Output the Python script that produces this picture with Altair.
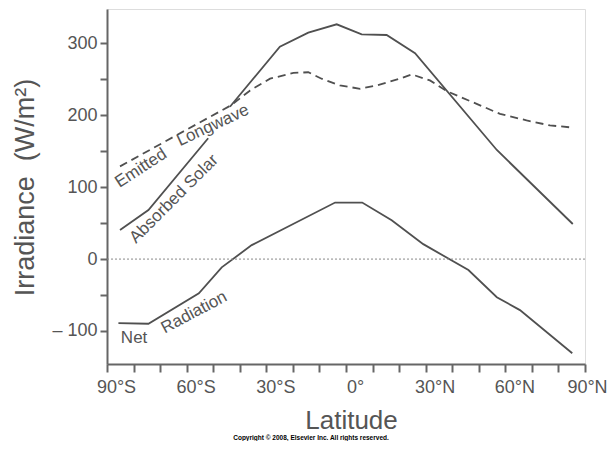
import altair as alt
import pandas as pd

# ---- data ----
absorbed_lat_a = [-85.1, -74.4, -51.9]
absorbed_val_a = [40.5, 68.3, 168.1]
absorbed_lat_b = [-43.7, -24.9, -14.2, -3.5, 5.9, 15.3, 26.0, 56.8, 85.4]
absorbed_val_b = [212, 295.6, 315, 326.7, 312.8, 311.8, 286.4, 151.8, 48.8]

emitted_lat = [-85.1, -64.0, -43.3, -36.1, -28.6, -19.8, -14.2, -9.2, -2.3, 5.3,
               11.6, 20.3, 24.8, 31.6, 37.9, 49.2, 58.0, 68.0, 76.8, 85.4]
emitted_val = [129, 172, 214, 234.7, 251, 259, 260, 251, 241.7, 237,
               241.7, 251, 257, 248.6, 233.7, 216, 202, 193, 186, 183]

net_lat = [-85.7, -74.4, -55.4, -46.8, -35.5, -4.1, 6.1, 17.2, 29.1, 46.1, 56.8, 65.5, 85.2]
net_val = [-89, -90, -47.7, -11.5, 19.4, 78.7, 78.7, 54, 20.8, -15.3, -53, -71, -131]

label_text = ["Emitted", "Longwave", "Absorbed Solar", "Net", "Radiation"]
label_lat = [-77.2, -50.1, -64.8, -79.8, -57.2]
label_val = [126.5, 186.0, 83.6, -110.5, -74.3]
label_angle = [327, 335, 315, 0, 332]

x_ticks = list(range(-90, 91, 10))
y_ticks = [-100, -50, 0, 50, 100, 150, 200, 250, 300]

# ---- build tables ----
solid_rows = []
for la, v in zip(absorbed_lat_a, absorbed_val_a):
    solid_rows.append({"lat": la, "val": v, "seg": "absorbed_a"})
for la, v in zip(absorbed_lat_b, absorbed_val_b):
    solid_rows.append({"lat": la, "val": v, "seg": "absorbed_b"})
for la, v in zip(net_lat, net_val):
    solid_rows.append({"lat": la, "val": v, "seg": "net"})
solid_df = pd.DataFrame(solid_rows)

dashed_df = pd.DataFrame({"lat": emitted_lat, "val": emitted_val, "seg": "emitted"})
labels_df = pd.DataFrame({"lat": label_lat, "val": label_val, "text": label_text, "angle": label_angle})
zero_df = pd.DataFrame({"val": [0]})

LINE = "#505050"
AXC = "#666666"
TXT = "#555555"
FONT = "Liberation Sans"
NB = "\u00a0"

x_scale = alt.Scale(domain=[-90, 90], nice=False, zero=False)
y_scale = alt.Scale(domain=[-146, 348], nice=False, zero=False)

x_axis = alt.Axis(
    values=x_ticks, title="Latitude", grid=False,
    labelExpr="datum.value % 30 != 0 ? '' : (datum.value < 0 ? abs(datum.value) + '°S' : (datum.value > 0 ? datum.value + '°N' : '0°'))",
    labelFlush=False, labelOverlap=False,
    labelOffset={"condition": {"test": "datum.value == 90", "value": 2}, "value": 9},
    labelAlign="center",
    labelFontSize=18, labelFont=FONT, labelColor=TXT, labelPadding=6,
    tickSize=8, tickWidth=2, tickColor=AXC,
    domainColor=AXC, domainWidth=2,
    titleFontSize=26, titleFont=FONT, titleColor=TXT, titleFontWeight="normal",
    titleX=244, titleY=64, titleBaseline="alphabetic", titleAlign="center",
)
y_axis = alt.Axis(
    values=y_ticks, title="Irradiance" + NB + NB + "(W/m²)", grid=False,
    labelExpr="datum.value % 100 != 0 ? '' : (datum.value < 0 ? '–" + NB + "' + abs(datum.value) : '' + datum.value)",
    labelOverlap=False, labelFontSize=18, labelFont=FONT, labelColor=TXT, labelPadding=3,
    tickSize=7, tickWidth=2, tickColor=AXC,
    domainColor=AXC, domainWidth=2,
    titleFontSize=27, titleFont=FONT, titleColor=TXT, titleFontWeight="normal",
    titleX=-74, titleY=178, titleAngle=270, titleBaseline="alphabetic", titleAlign="center",
)

X = alt.X("lat:Q", scale=x_scale, axis=x_axis)
Y = alt.Y("val:Q", scale=y_scale, axis=y_axis)

zero_rule = alt.Chart(zero_df).mark_rule(color="#888888", strokeWidth=1, strokeDash=[2, 2]).encode(y=Y)

solid = alt.Chart(solid_df).mark_line(color=LINE, strokeWidth=1.8).encode(
    x=X, y=Y, detail="seg:N"
)

dashed = alt.Chart(dashed_df).mark_line(color=LINE, strokeWidth=1.8, strokeDash=[8, 5]).encode(
    x=X, y=Y
)

labels = alt.Chart(labels_df).mark_text(
    font=FONT, fontSize=17, color=TXT, align="center", baseline="middle"
).encode(
    x=X, y=Y,
    text="text:N",
    angle=alt.Angle("angle:Q", scale=None),
)

chart = alt.layer(solid, dashed, zero_rule, labels).properties(
    width=478,
    height=355,
    autosize=alt.AutoSizeParams(type="none"),
    padding={"left": 99, "top": 1, "right": 22, "bottom": 77},
    title=alt.TitleParams(
        "Copyright © 2008, Elsevier Inc. All rights reserved.",
        orient="bottom", anchor="middle", fontSize=6.5, fontWeight="bold",
        font=FONT, color="#000000", offset=2, dx=-35,
    ),
).configure_view(stroke=AXC, strokeWidth=2).configure_axis(labelOverlap=False, labelFlush=False).configure(background="white")

chart.save("out.html", embed_options={"renderer": "svg", "actions": False})
